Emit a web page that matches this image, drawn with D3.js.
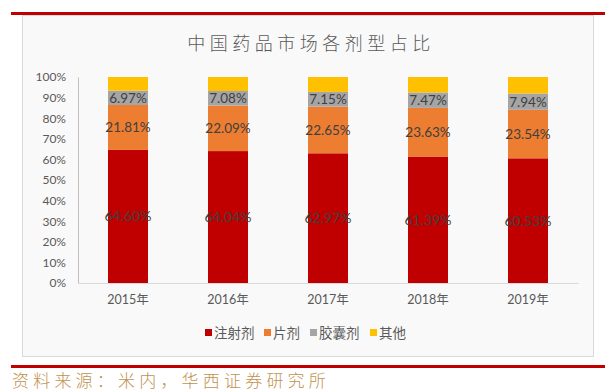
<!DOCTYPE html>
<html><head><meta charset="utf-8">
<script src="https://cdn.jsdelivr.net/npm/d3@7/dist/d3.min.js"></script>
<style>
html,body{margin:0;padding:0;background:#fff;}
svg{display:block;}
</style></head>
<body>
<svg id="c" width="614" height="392"></svg>
<script>
const years = ["2015年","2016年","2017年","2018年","2019年"];
const seriesNames = ["注射剂","片剂","胶囊剂","其他"];
const injection = [64.60, 64.04, 62.97, 61.39, 60.53];
const tablet = [21.81, 22.09, 22.65, 23.63, 23.54];
const capsule = [6.97, 7.08, 7.15, 7.47, 7.94];
const other = [6.62, 6.79, 7.23, 7.51, 7.99];
const yTicks = [0,10,20,30,40,50,60,70,80,90,100];
const colors = ["#C00000","#ED7D31","#A5A5A5","#FFC000"];
const title = "中国药品市场各剂型占比";
const source = "资料来源：米内，华西证券研究所";

const svg = d3.select("#c");
const latin = "Lato, 'Noto Sans CJK SC', sans-serif";

// frame lines
svg.append("rect").attr("x",22.5).attr("y",15.5).attr("width",571).attr("height",341)
  .attr("fill","#f9f9f9").attr("stroke","#d9d9d9");
svg.append("rect").attr("x",11).attr("y",12).attr("width",594).attr("height",3).attr("fill","#C00000");
svg.append("rect").attr("x",11).attr("y",365).attr("width",594).attr("height",3).attr("fill","#C00000");

svg.append("text").attr("x",311).attr("y",50).attr("text-anchor","middle")
  .attr("font-family","'Noto Sans CJK SC', sans-serif").attr("font-weight",300)
  .attr("font-size",18).attr("letter-spacing",4.5).attr("fill","#595959").text(title);

svg.append("text").attr("x",12).attr("y",387)
  .attr("font-family","'Noto Sans CJK SC', sans-serif").attr("font-weight",300)
  .attr("font-size",17).attr("letter-spacing",4.2).attr("fill","#c0924f").text(source);

const x = d3.scaleBand().domain(years).range([78,578]).paddingInner(0.6).paddingOuter(0.3);
const y = d3.scaleLinear().domain([0,100]).range([283,77]);

// axes
const gy = svg.append("g").attr("transform","translate(78,0)")
  .call(d3.axisLeft(y).tickValues(yTicks).tickFormat(d=>d+"%").tickSize(0).tickPadding(12));
gy.select(".domain").attr("stroke","#bfbfbf");
gy.selectAll("text").attr("font-family",latin).attr("font-size",12).attr("fill","#595959");

const gx = svg.append("g").attr("transform","translate(0,283)")
  .call(d3.axisBottom(x).tickSize(0).tickPadding(12));
gx.select(".domain").attr("stroke","#d9d9d9");
gx.selectAll("text").attr("font-family",latin).attr("font-size",12.5).attr("fill","#595959");

const rows = years.map((yr,i)=>({year:yr, s0:injection[i], s1:tablet[i], s2:capsule[i], s3:other[i]}));
const stack = d3.stack().keys(["s0","s1","s2","s3"])(rows);

stack.forEach((layer,k)=>{
  svg.append("g").selectAll("rect").data(layer).join("rect")
    .attr("x",d=>x(d.data.year)).attr("width",x.bandwidth())
    .attr("y",d=>y(d[1])).attr("height",d=>y(d[0])-y(d[1]))
    .attr("fill",colors[k]);
  if(k<3){
    svg.append("g").selectAll("text").data(layer).join("text")
      .attr("x",d=>x(d.data.year)+x.bandwidth()/2)
      .attr("y",d=>(y(d[0])+y(d[1]))/2+5)
      .attr("text-anchor","middle").attr("font-family",latin)
      .attr("font-size",k===0?14:13.5).attr("fill","#404040")
      .text(d=>(d[1]-d[0]).toFixed(2)+"%");
  }
});

// legend
const legX = [205,264,310,370];
seriesNames.forEach((n,i)=>{
  svg.append("rect").attr("x",legX[i]).attr("y",329).attr("width",7).attr("height",7).attr("fill",colors[i]);
  svg.append("text").attr("x",legX[i]+9).attr("y",338)
    .attr("font-family","'Noto Sans CJK SC', sans-serif").attr("font-size",13.5).attr("fill","#595959").text(n);
});
</script>
</body></html>
